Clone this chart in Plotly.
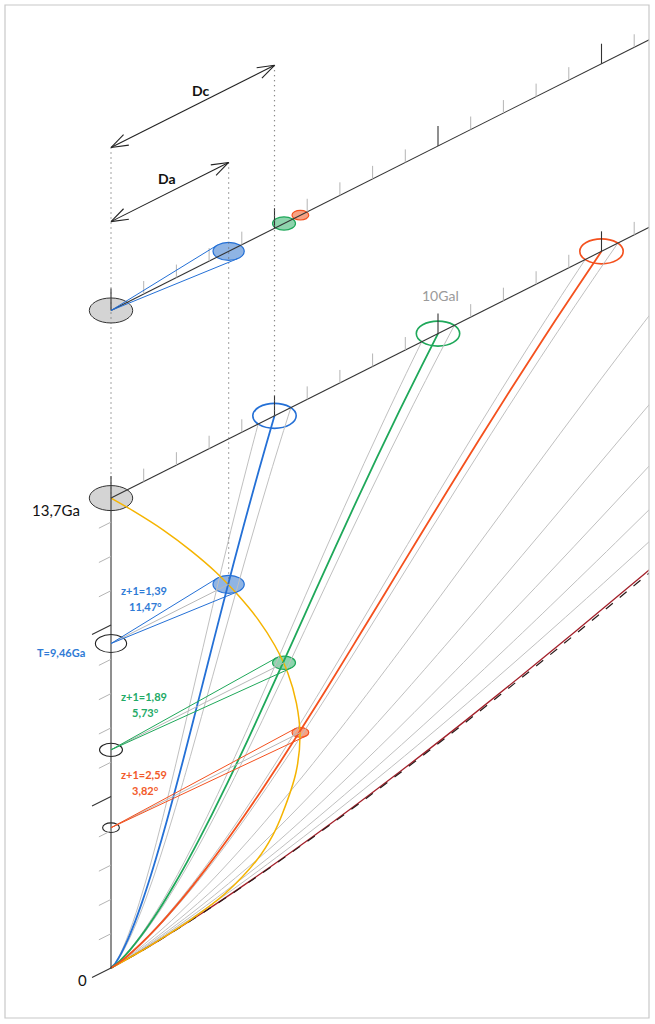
import math
import plotly.graph_objects as go

# ------------------------------------------------------------------ data
AGE = 13.7                      # Ga, present time
# scale factor a(t)
A_T = [0, 0.05, 0.1, 0.25, 0.5, 1, 1.5, 2, 2.5, 3, 3.5, 4, 5, 6, 7, 8, 9, 10, 11, 12, 13, 13.7]
A_VAL = [0, 0.0200, 0.0317, 0.0584, 0.0928, 0.1473, 0.1933, 0.2346, 0.2728, 0.3089, 0.3434,
         0.3767, 0.4409, 0.5030, 0.5643, 0.6255, 0.6872, 0.7501, 0.8146, 0.8812, 0.9502, 1.0]
# past light cone : proper distance (Gal) at time t (Ga)
CONE_T = [13.7, 13, 12, 11, 10, 9, 8, 7, 6, 5, 4, 3, 2, 1.5, 1, 0.5, 0.25, 0.1, 0.05, 0]
CONE_D = [0, 0.68, 1.60, 2.44, 3.21, 3.89, 4.50, 5.01, 5.41, 5.67, 5.78, 5.66, 5.25, 4.95,
          4.45, 3.50, 2.50, 1.40, 0.90, 0]
# highlighted galaxies
GAL_DC = [5, 10, 15]                 # comoving distance, Gal
GAL_Z1 = [1.39, 1.89, 2.59]          # z+1
GAL_T = [9.46, 6.36, 4.09]           # emission time, Ga
GAL_ANGLE = [11.47, 5.73, 3.82]      # apparent diameter, degrees
GAL_R = 0.5                          # galaxy radius, Gal (comoving)
# other galaxies and horizon
BG_DC = [20, 25, 30, 35, 40]
HORIZON_DC = [46.0, 46.8]
TIME_TICKS = list(range(0, 14))
DIST_TICKS = list(range(0, 17))
AXIS_END = 16.6

# ------------------------------------------------------------------ style / projection
PXG = 32.7            # px per Gal along the oblique axis (horizontal part)
PXT = 34.3            # px per Ga on the time axis
SHEAR = 16.45 / PXT   # vertical rise of the oblique axis per Gal (in Ga units)
UPPER = 19.17         # level of the "today" upper plane
DA_LEVEL = 21.76
DC_LEVEL = 23.92
ERX, ERY = 43.4 / PXG, 25.0 / PXT   # ellipse half axes per Gal of radius

BLUE, GREEN, ORANGE = "#2470d6", "#1fa85a", "#f4511e"
FILLS = ["#8fb4e4", "#8ed4ad", "#f7a283"]
TXT = ["#2f7bd6", "#22aa66", "#f25a2a"]
COLS = [BLUE, GREEN, ORANGE]
YELLOW = "#f5b400"
LGRAY = "#c0c0c0"
AXIS = "#333333"
FONT = "Lato"


def pt(level, d):
    return d, level + SHEAR * d


def px(dx, dy):
    """screen pixel offset (y down) -> data offset"""
    return dx / PXG, -dy / PXT


def worldline(dc):
    xs, ys = [], []
    for t, a in zip(A_T, A_VAL):
        x, y = pt(t, a * dc)
        xs.append(x)
        ys.append(y)
    return xs, ys


fig = go.Figure()


def line(xs, ys, color, width=1.0, dash=None, shape="linear"):
    fig.add_trace(go.Scatter(x=xs, y=ys, mode="lines", hoverinfo="skip", showlegend=False,
                             line=dict(color=color, width=width, dash=dash, shape=shape)))


shapes = []


def ellipse(cx, cy, r, color, fill=None, width=1.2):
    rx, ry = ERX * r, ERY * r
    shapes.append(dict(type="circle", xref="x", yref="y", layer="below",
                       x0=cx - rx, x1=cx + rx, y0=cy - ry, y1=cy + ry,
                       line=dict(color=color, width=width),
                       fillcolor=fill if fill else "rgba(0,0,0,0)"))


def tangents(P, cx, cy, r):
    rx, ry = ERX * r, ERY * r
    u, v = (P[0] - cx) / rx, (P[1] - cy) / ry
    rho = math.hypot(u, v)
    phi = math.atan2(v, u)
    dl = math.acos(1 / rho)
    return [(cx + rx * math.cos(phi + s * dl), cy + ry * math.sin(phi + s * dl)) for s in (1, -1)]


# background galaxies world lines
for dc in BG_DC:
    line(*worldline(dc), LGRAY, 1.0, shape="spline")
# flanking world lines (galaxy edges)
for dc in GAL_DC:
    for e in (-GAL_R, GAL_R):
        line(*worldline(dc + e), LGRAY, 1.0, shape="spline")
# horizon
line(*worldline(HORIZON_DC[0]), "#a3202a", 1.3, shape="spline")
line(*worldline(HORIZON_DC[1]), "#2a1a1a", 1.2, dash="dash", shape="spline")

# light cone
cx_, cy_ = zip(*[pt(t, d) for t, d in zip(CONE_T, CONE_D)])
line(list(cx_), list(cy_), YELLOW, 1.5, shape="spline")

# highlighted world lines
for dc, c in zip(GAL_DC, COLS):
    line(*worldline(dc), c, 1.8, shape="spline")

# ---- axes
line([0, 0], [0, AGE], AXIS, 1.1)
for lvl in (AGE, UPPER):
    x0, y0 = pt(lvl, 0)
    x1, y1 = pt(lvl, AXIS_END)
    line([x0, x1], [y0, y1], AXIS, 1.1)

# time ticks
mx, my, Mx, My = [], [], [], []
for t in TIME_TICKS:
    major = t % 5 == 0
    L = 0.58 if major else 0.37
    xs, ys = (Mx, My) if major else (mx, my)
    xs += [0, -L, None]
    ys += [t, t - SHEAR * L, None]
# distance ticks on both planes
for lvl in (AGE, UPPER):
    for d in DIST_TICKS:
        major = d % 5 == 0
        h = (22 if d == 0 else 20) / PXT if major else 13 / PXT
        xs, ys = (Mx, My) if major else (mx, my)
        x0, y0 = pt(lvl, d)
        xs += [x0, x0, None]
        ys += [y0, y0 + h, None]
line(mx, my, "#b4b4b4", 1.0)
line(Mx, My, AXIS, 1.1)

# ---- dotted guides and arrows
da0 = GAL_DC[0] / GAL_Z1[0]
dc0 = GAL_DC[0]
DOT = "1px,4px"
line([0, 0], [DC_LEVEL, AGE], "#666666", 1.2, dash=DOT)
line([da0, da0], [pt(DA_LEVEL, da0)[1], pt(GAL_T[0], da0)[1]], "#666666", 1.2, dash=DOT)
line([dc0, dc0], [pt(DC_LEVEL, dc0)[1], pt(AGE, dc0)[1]], "#666666", 1.2, dash=DOT)

HEAD_LEN, HEAD_ANG = 18.0, math.radians(19)
ang = math.atan2(-SHEAR * PXT, PXG)  # screen direction of the axis (y down)
for lvl, dist in ((DC_LEVEL, dc0), (DA_LEVEL, da0)):
    a0 = pt(lvl, 0)
    a1 = pt(lvl, dist)
    line([a0[0], a1[0]], [a0[1], a1[1]], "#222222", 1.1)
    for tip, base in ((a1, ang + math.pi), (a0, ang)):
        hx, hy = [], []
        for s in (1, -1):
            th = base + s * HEAD_ANG
            dx, dy = px(HEAD_LEN * math.cos(th), HEAD_LEN * math.sin(th))
            hx += [tip[0] + dx, tip[0], None]
            hy += [tip[1] + dy, tip[1], None]
        line(hx, hy, "#222222", 1.1)

# ---- observers
for lvl in (AGE, UPPER):
    ellipse(0, lvl, GAL_R, AXIS, "#d4d4d4", 1.0)

# ---- galaxies
for i, (dc, z1, T, c) in enumerate(zip(GAL_DC, GAL_Z1, GAL_T, COLS)):
    a = 1 / z1
    da = dc * a
    r = GAL_R * a
    # today, on the lower oblique axis
    ex, ey = pt(AGE, dc)
    ellipse(ex, ey, GAL_R, c, None, 1.6)
    # emission event
    vx, vy = pt(T, da)
    ellipse(vx, vy, r, c, FILLS[i], 1.2)
    # observer position at emission time
    ellipse(0, T, r, "#222222", None, 1.1)
    P = (0, T)
    tp = tangents(P, vx, vy, r)
    line([P[0], vx], [P[1], vy], "#b8b8b8", 1.0)
    for q in tp:
        line([P[0], q[0]], [P[1], q[1]], c, 1.0)
    # upper plane (angular distance)
    ux, uy = pt(UPPER, da)
    ellipse(ux, uy, r, c, FILLS[i], 1.2)
    if i == 0:
        for q in tangents((0, UPPER), ux, uy, r):
            line([0, q[0]], [UPPER, q[1]], c, 1.0)

# ---- texts
ann = []


def text(x, y, s, size, color, bold=False):
    ann.append(dict(x=x, y=y, xref="x", yref="y", text=("<b>%s</b>" % s) if bold else s,
                    showarrow=False, xanchor="center", yanchor="middle",
                    font=dict(family=FONT, size=size, color=color)))


def fmt(v):
    return ("%.2f" % v).replace(".", ",")


text(*[p + q for p, q in zip((0, AGE), px(-55, 12))], "13,7Ga", 15, "#111111")
text(*[p + q for p, q in zip((0, 0), px(-29, 12))], "0", 15, "#111111")
lx, ly = pt(AGE, 10)
text(lx + px(2, 0)[0], ly + px(0, -38)[1], "10Gal", 14, "#9a9a9a")
mx_, my_ = pt(DC_LEVEL, dc0 / 2)
text(mx_ + px(8, 0)[0], my_ + px(0, -16)[1], "Dc", 14, "#111111", True)
mx_, my_ = pt(DA_LEVEL, da0 / 2)
text(mx_ + px(-3, 0)[0], my_ + px(0, -14)[1], "Da", 14, "#111111", True)
for i, (z1, T, ang_) in enumerate(zip(GAL_Z1, GAL_T, GAL_ANGLE)):
    text(px(33, 0)[0], T + 53.3 / PXT, "z+1=" + fmt(z1), 11, TXT[i], True)
    text(px(34, 0)[0], T + 37.5 / PXT, fmt(ang_) + "°", 11, TXT[i], True)
text(px(-50, 0)[0], GAL_T[0] - 8.8 / PXT, "T=" + fmt(GAL_T[0]) + "Ga", 11, TXT[0], True)

# frame
shapes.append(dict(type="rect", xref="paper", yref="paper", x0=0, x1=1, y0=0, y1=1,
                   line=dict(color="#c8c8c8", width=1.2), layer="above"))

W, H = 655, 1024
ML, MR, MT, MB = 5, 6, 5, 6
OX, OY = 111, 968
fig.update_layout(
    width=W, height=H, autosize=False,
    margin=dict(l=ML, r=MR, t=MT, b=MB, pad=0),
    paper_bgcolor="white", plot_bgcolor="white",
    shapes=shapes, annotations=ann, showlegend=False,
    xaxis=dict(range=[(ML - OX) / PXG, (W - MR - OX) / PXG], visible=False, fixedrange=True),
    yaxis=dict(range=[(OY - (H - MB)) / PXT, (OY - MT) / PXT], visible=False, fixedrange=True),
)
fig.write_html("out.html", config={"displayModeBar": False},
               post_script="document.body.style.margin='0';")
